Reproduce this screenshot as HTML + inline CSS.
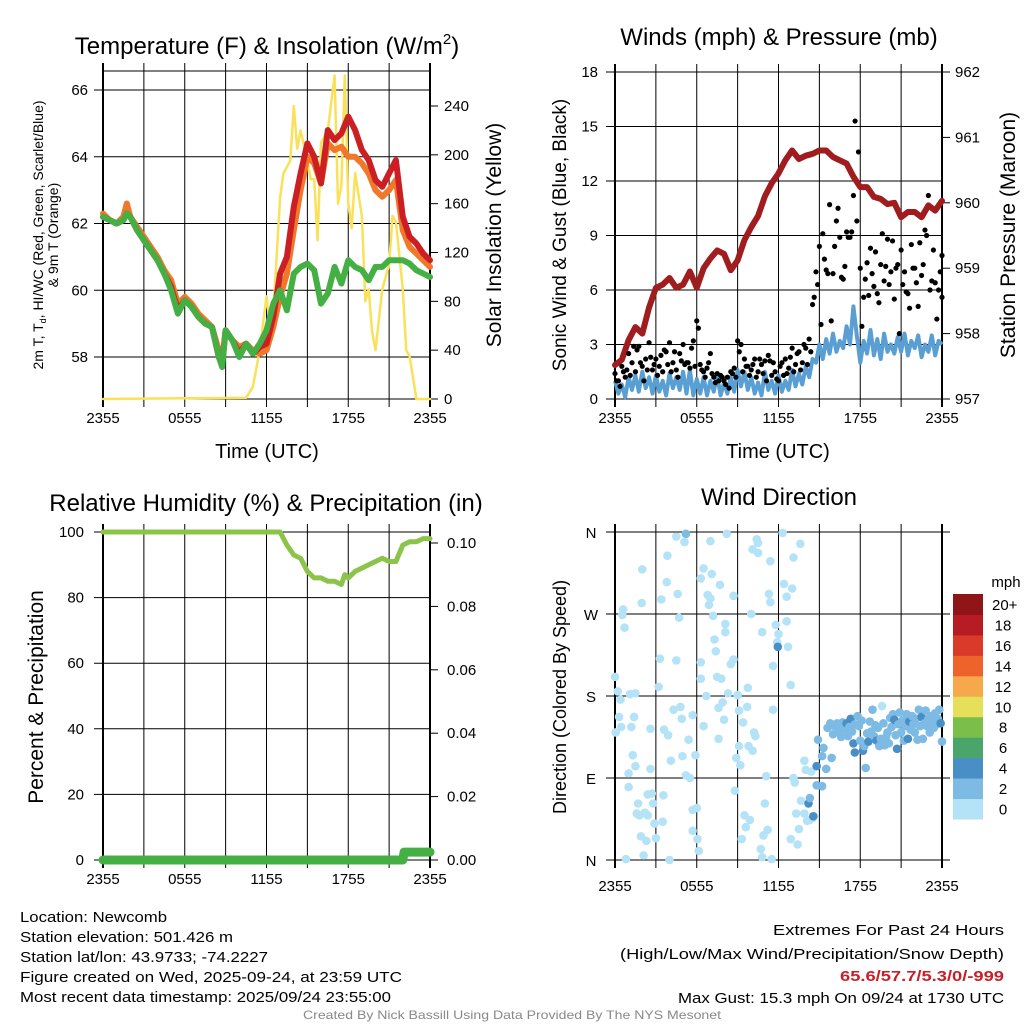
<!DOCTYPE html>
<html><head><meta charset="utf-8"><style>
html,body{margin:0;padding:0;background:#fff;}
svg{display:block;font-family:"Liberation Sans",Arial,sans-serif;}
</style></head><body>
<svg id="chart" width="1024" height="1024" viewBox="0 0 1024 1024" xmlns="http://www.w3.org/2000/svg"></svg>
<script>
// ---------- DATA ----------
const tempTimes = [0,0.5,1,1.5,1.75,2,2.5,3,3.5,4,4.5,5,5.5,6,6.5,7,7.5,8,8.5,8.75,9,9.5,10,10.5,11,11.5,12,12.5,13,13.5,14,14.5,15,15.5,16,16.5,17,17.5,18,18.5,19,19.5,20,20.5,21,21.5,22,22.5,23,23.5,24];
const temp2m = [62.2,62.1,62.0,62.1,62.3,62.2,61.8,61.5,61.2,60.9,60.5,60.1,59.4,59.7,59.5,59.2,59.0,58.9,58.0,57.8,58.8,58.5,58.1,58.4,58.1,58.3,58.4,59.2,60.5,61.0,62.5,63.5,64.4,64.0,63.2,64.8,64.5,64.7,65.2,64.8,64.2,63.9,63.3,63.1,63.5,63.9,62.2,61.6,61.4,61.1,60.9];
const temp9m = [62.3,62.1,62.0,62.2,62.6,62.2,61.9,61.6,61.3,61.0,60.6,60.3,59.6,59.8,59.6,59.3,59.1,58.9,58.2,57.9,58.8,58.5,58.3,58.4,58.2,58.1,58.2,58.9,59.8,60.5,61.8,63.0,64.0,63.8,63.2,64.4,64.2,64.3,64.0,64.0,63.8,63.5,63.0,62.8,63.0,63.3,61.8,61.3,61.1,60.9,60.7];
const dewPoint = [62.2,62.1,62.0,62.1,62.3,62.2,61.8,61.5,61.2,60.9,60.5,60.0,59.3,59.7,59.5,59.2,59.0,58.9,58.0,57.7,58.8,58.5,58.0,58.4,58.1,58.4,58.8,59.6,60.0,59.4,60.5,60.7,60.8,60.6,59.6,59.9,60.7,60.2,60.9,60.7,60.6,60.3,60.7,60.7,60.9,60.9,60.9,60.8,60.6,60.5,60.4];
const solarTimes = [0,10.5,11,11.5,12,12.25,12.5,13,13.25,13.5,13.75,14,14.25,14.5,15,15.25,15.5,15.75,16,16.5,17,17.25,17.5,17.75,18,18.25,18.5,19,19.25,19.5,19.75,20,20.5,21,21.25,21.5,22,22.25,22.5,23,24];
const solar = [0,1,10,40,84,60,70,165,185,190,195,240,205,220,195,180,180,130,210,220,265,160,175,265,160,140,185,150,80,90,55,40,90,110,150,145,90,40,35,0,0];
const tempTicks = [58,60,62,64,66];
const solarTicks = [0,40,80,120,160,200,240];
const timeLabels = ["2355","0555","1155","1755","2355"];

const pressTimes = [0,0.5,1,1.5,2,2.5,3,3.5,4,4.5,5,5.5,6,6.5,7,7.5,8,8.5,9,9.5,10,10.5,11,11.5,12,12.5,13,13.5,14,14.5,15,15.5,16,16.5,17,17.5,18,18.5,19,19.5,20,20.5,21,21.5,22,22.5,23,23.5,24];
const pressure = [957.52,957.6,957.9,958.1,958.0,958.4,958.7,958.75,958.85,958.7,958.75,958.95,958.7,959.0,959.15,959.27,959.22,958.97,959.12,959.43,959.63,959.8,960.1,960.3,960.45,960.65,960.8,960.67,960.72,960.75,960.8,960.8,960.7,960.65,960.6,960.4,960.24,960.24,960.09,960.06,959.98,960.0,959.78,959.86,959.86,959.78,959.96,959.88,960.03];
const sonicWind = [1,0.3,0.8,0.1,1.2,0.5,1.3,0.4,1.5,0.6,1.2,0.3,
 1.3,0.4,1.0,0.2,1.4,0.6,1.2,0.5,1.5,0.3,1.6,0.2,
 1.1,0.3,1.2,0.2,1.0,0.4,1.3,0.2,0.9,0.3,1.2,0.4,
 1.6,0.7,1.5,0.5,1.2,0.3,0.9,0.2,1.5,0.5,1.0,0.3,
 1.3,0.4,1.0,0.5,1.6,0.7,1.4,0.8,1.8,1.2,2.2,2.0,
 3.0,2.2,3.3,2.5,3.6,2.6,3.2,2.8,4.0,3.0,5.1,3.5,
 2.0,3.2,2.5,3.8,2.4,3.3,2.2,3.6,2.6,3.0,2.5,3.4,
 2.6,3.6,2.4,3.2,2.8,3.5,2.3,3.0,2.6,3.5,2.4,3.2,3.0];
const gustA = [1.4,1.0,1.8,1.2,2.5,2.0,1.5,2.9,1.8,2.2,3.1,1.6,
 2.2,1.8,1.5,2.6,3.1,2.0,1.6,2.5,3.0,2.0,1.7,3.2,
 4.3,1.9,1.5,1.7,2.5,1.2,1.4,1.3,1.0,1.2,1.5,1.7,
 3.2,3.0,2.2,1.8,1.6,2.2,1.5,1.9,2.1,2.4,1.3,1.5,
 1.0,2.0,2.2,1.7,2.8,1.9,2.6,2.0,2.8,3.3,5.2,7.0,
 8.4,9.1,7.1,10.7,6.9,9.8,8.9,6.6,9.2,8.9,11.2,9.8,
 7.2,5.6,7.5,8.3,6.2,5.8,7.4,6.5,8.8,7.0,5.5,7.4,
 8.2,7.0,5.8,8.5,7.2,5.1,6.8,9.3,11.2,6.5,6.4,6.0,5.6];
const gustB = [1.0,0.7,1.5,1.6,1.3,2.9,2.7,2.0,1.0,1.6,2.3,1.9,
 1.3,2.4,2.7,1.9,1.5,2.6,1.2,2.1,1.9,2.0,2.8,1.8,
 3.9,1.6,1.2,2.0,1.4,0.9,1.0,1.2,0.8,0.6,1.4,1.2,
 2.6,1.5,1.8,1.3,1.9,1.2,2.2,1.4,1.0,2.1,2.0,1.1,
 1.8,1.3,1.4,2.3,1.5,2.5,1.6,3.0,1.9,2.6,5.6,6.3,
 4.1,7.7,6.9,4.3,8.4,10.5,6.7,7.3,8.9,9.2,15.3,13.6,
 4.0,6.6,5.7,6.9,8.1,5.3,9.1,7.3,6.3,8.7,7.2,3.6,
 6.3,5.9,5.0,7.2,6.4,8.6,7.4,9.0,6.0,8.2,4.4,7.0,7.9];
const windTicks = [0,3,6,9,12,15,18];
const pressTicks = [957,958,959,960,961,962];

const rhTimes = [0,13,13.5,14,14.5,15,15.5,16,16.5,17,17.5,17.75,18,18.5,19,19.5,20,20.5,21,21.5,22,22.5,23,23.5,24];
const rh = [100,100,96,93,92,88,86,86,85,85,84,87,86,88,89,90,91,92,91,91,96,97,97,98,98];
const precipTimes = [0,22,22.1,24];
const precip = [0,0,0.0025,0.0025];
const rhTicks = [0,20,40,60,80,100];
const precipTicks = ["0.00","0.02","0.04","0.06","0.08","0.10"];

const dirTimes = [4.5,5.2,5.1,3.85,2.0,1.96,0.6,0.54,0.7,0,0.2,0.4,1.1,1.5,0.3,0.45,0.05,1.4,1.2,1.3,1.5,1.0,1.0,1.7,1.6,1.8,2.2,2.4,2.4,2.7,2.8,2.6,2.6,1.9,2.3,2.1,0.8,3.0,2.9,3.5,3.55,3.6,3.9,4.1,3.2,3.3,3.4,3.8,4.6,4.7,4.5,4.3,4.8,4.9,4.95,5.2,5.5,5.4,5.7,4.0,5.7,5.9,5.7,6.0,6.05,6.15,6.7,6.5,6.3,6.3,6.3,6.5,7.1,6.8,7.0,6.9,7.2,7.3,7.4,7.0,7.7,8.2,8.1,8.1,8.7,8.5,8.7,7.5,7.8,7.6,7.9,8.0,7.6,8.3,9.0,9.1,9.7,9.4,9.75,10.2,10.3,9.1,8.9,9.2,9.8,10.1,8.8,9.5,9.9,9.6,9.3,11.1,11.0,10.9,11.2,10.7,10.8,11.5,10.4,10.5,10.1,10.5,11.4,10.0,10.8,11.3,11.4,11.8,12.0,11.9,11.95,12.7,12.6,11.6,12.9,11.6,12.3,13.6,13.1,12.4,13.0,12.6,13.2,13.1,13.65,13.3,13.9,13.5,12.9,13.4,13.9,14.0,14.4,14.1,14.3,14.5,14.6,
 14.2,14.3,14.55,14.8,15.2,14.8,15.5,14.9,15.3,15.2,15.9,
 15.6,15.8,16.0,16.1,16.3,16.4,16.5,16.6,16.7,16.9,17.0,17.1,17.2,17.3,17.4,17.5,17.6,17.6,17.8,17.9,18.0,18.1,18.2,18.3,18.4,18.5,18.6,18.7,18.8,18.9,19.0,19.1,19.2,19.3,19.4,19.5,19.6,19.7,19.8,19.9,20.0,20.1,20.2,20.3,20.4,20.5,20.6,20.7,20.8,20.9,21.0,21.1,21.2,21.3,21.4,21.5,21.6,21.7,21.8,21.9,22.0,22.1,22.2,22.3,22.4,22.5,22.6,22.7,22.8,22.9,23.0,23.1,23.2,23.3,23.4,23.5,23.6,23.7,23.8,23.9,24.0];
const dirDeg = [355,358,349,334,319,282,275,269,255,201,185,176,182,183,157,146,140,157,146,115,103,95,80,62,51,49,52,49,72,73,62,144,100,26,21,5,1,24,40,42,71,143,137,109,190,221,286,305,292,266,219,165,168,155,114,93,90,132,32,0,159,115,55,57,23,10,180,147,199,217,309,320,314,291,287,280,268,242,229,350,302,358,259,250,290,215,220,201,199,167,173,154,133,183,181,164,168,151,189,140,136,125,112,104,125,120,76,49,44,36,23,92,62,27,33,12,3,1,352,348,341,337,328,270,250,292,283,258,248,239,234,234,262,213,192,165,359,347,332,303,298,289,85,90,65,51,51,34,23,17,109,99,97,43,44,46,48,
 62,68,48,82,81,103,100,132,123,114,112,
 145,150,138,147,150,140,148,135,151,143,150,136,146,155,141,128,118,149,158,147,131,153,120,125,101,139,130,152,141,165,136,148,131,145,125,133,169,150,126,135,140,128,156,146,160,154,137,122,149,162,140,153,131,147,160,133,152,143,158,149,140,155,132,165,147,157,133,150,164,147,155,140,158,151,145,161,149,155,165,150,130];
const dirSpeed = [1,3,1,1,1,1,1,1,1,1,1,1,1,1,1,1,1,1,1,1,1,1,1,1,1,1,1,1,1,1,1,1,1,1,1,1,1,1,1,1,1,1,1,1,1,1,1,1,1,1,1,1,1,1,1,1,1,1,1,1,1,1,1,1,1,1,1,1,1,1,1,1,1,1,1,1,1,1,1,1,1,1,1,1,1,1,1,1,1,1,1,1,1,1,1,1,1,1,1,1,1,1,1,1,1,1,1,1,1,1,1,1,1,1,1,1,1,1,1,1,1,1,1,1,1,1,1,1,1,1,4,1,1,1,1,1,1,1,1,1,1,1,1,1,1,1,1,1,1,1,1,1,1,1,1,1,1,
 4,3,4,3,2,4,2,3,3,2,3,
 2,3,3,2,2,3,2,3,2,3,4,3,2,4,3,4,4,3,2,2,3,2,4,3,2,2,4,2,2,3,2,2,4,2,2,2,1,2,2,3,2,3,2,2,3,4,2,4,2,2,3,3,2,2,3,4,4,2,2,3,3,3,2,2,2,4,2,2,3,2,2,2,3,2,2,2,3,2,3,4,2];
const dirLabels = ["N","E","S","W","N"];
const cbLabels = ["0","2","4","6","8","10","12","14","16","18","20+"];
const cbColors = ["#b4e3f7","#7dbbe5","#4a8ec6","#4aa56b","#7bbf4a","#e5e05a","#f5a94a","#ee632b","#d93a2a","#b71c24","#8f1519"];

// ---------- HELPERS ----------
const NS = "http://www.w3.org/2000/svg";
const svg = document.getElementById("chart");
function mk(tag, attrs, parent) {
  const e = document.createElementNS(NS, tag);
  for (const k in attrs) e.setAttribute(k, attrs[k]);
  (parent || svg).appendChild(e);
  return e;
}
function txt(str, x, y, size, anchor, parent, extra) {
  const t = mk("text", Object.assign({x: x, y: y, "font-size": size, "text-anchor": anchor || "middle", fill: "#000"}, extra || {}), parent);
  t.textContent = str;
  return t;
}
function lin(d0, d1, p0, p1) { return v => p0 + (v - d0) * (p1 - p0) / (d1 - d0); }
function pathFrom(xs, ys, xf, yf) {
  return xs.map((t, i) => (i ? "L" : "M") + xf(t).toFixed(1) + "," + yf(ys[i]).toFixed(1)).join("");
}

function panelFrame(g, L, T, R, B, hLines, vCount) {
  for (let i = 0; i <= vCount; i++) {
    const x = L + (R - L) * i / vCount;
    const l = mk("line", {x1: x, y1: T - 8, x2: x, y2: B + 8, stroke: "#000", "stroke-width": (i === 0 || i === vCount) ? 2 : 1}, g);
    
    
  }
  hLines.forEach(y => {
    const l = mk("line", {x1: L - 9, y1: y, x2: R, y2: y, stroke: "#000", "stroke-width": 1}, g);
    
    
  });
  const b = mk("line", {x1: L, y1: T, x2: R, y2: T, stroke: "#000", "stroke-width": 1}, g);
  
  
  const b2 = mk("line", {x1: L, y1: B, x2: R, y2: B, stroke: "#000", "stroke-width": 1}, g);
  
  
}
function timeAxis(g, L, R, y) {
  timeLabels.forEach((s, i) => {
    const t = txt(s, L + (R - L) * i / 4, y, 15, "middle", g);
    
    
  });
}

// ---------- PANEL 1: Temperature ----------
(function () {
  const g = mk("g", {});
  
  
  const L = 103, R = 430, T = 71, B = 399;
  const x = lin(0, 24, L, R);
  const y = lin(58, 66, 357, 90);
  const ys = lin(0, 240, 399, 106);
  panelFrame(g, L, T, R, B, tempTicks.map(y), 8);
  tempTicks.forEach(v => {
    const t = txt(String(v), 88, y(v) + 5, 15, "end", g);
    
    
  });
  solarTicks.forEach(v => {
    const l = mk("line", {x1: R, y1: ys(v), x2: R + 8, y2: ys(v), stroke: "#000", "stroke-width": 1}, g);
    
    
    const t = txt(String(v), 444, ys(v) + 5, 15, "start", g);
    
    
  });
  const series = [[solarTimes, solar, ys, "#f9e15a", 2.5, "solar-line"], [tempTimes, temp9m, y, "#f0782a", 6, "temp-9m-line"], [tempTimes, temp2m, y, "#cc1f24", 6, "temp-2m-line"], [tempTimes, dewPoint, y, "#44b043", 6, "dewpoint-line"]];
  series.forEach(s => {
    const p = mk("path", {d: pathFrom(s[0], s[1], x, s[2]), fill: "none", stroke: s[3], "stroke-width": s[4], "stroke-linejoin": "round", "stroke-linecap": "round"}, g);
    
    
  });
  timeAxis(g, L, R, 423);
  const t1 = mk("text", {x: 267, y: 54, "font-size": 24, "text-anchor": "middle"}, g);
  t1.innerHTML = 'Temperature (F) &amp; Insolation (W/m<tspan font-size="15" dy="-10">2</tspan><tspan dy="10">)</tspan>';
  
  
  const xt = txt("Time (UTC)", 267, 458, 20, "middle", g);
  
  
  const yt = mk("text", {x: 0, y: 0, "font-size": 14, "text-anchor": "middle", transform: "translate(43,235) rotate(-90)"}, g);
  yt.innerHTML = '2m T, T<tspan font-size="9" dy="3">d</tspan><tspan dy="-3">, HI/WC (Red, Green, Scarlet/Blue)</tspan>';
  
  
  const yt2 = txt("& 9m T (Orange)", 0, 0, 14, "middle", g, {transform: "translate(58,235) rotate(-90)"});
  
  
  const rt = txt("Solar Insolation (Yellow)", 0, 0, 21, "middle", g, {transform: "translate(501,235) rotate(-90)"});
  
  
})();

// ---------- PANEL 2: Winds ----------
(function () {
  const g = mk("g", {});
  
  
  const L = 615, R = 942, T = 72, B = 399;
  const x = lin(0, 24, L, R);
  const y = lin(0, 18, 399, 72);
  const yp = lin(957, 962, 399, 72);
  panelFrame(g, L, T, R, B, windTicks.map(y), 8);
  windTicks.forEach(v => {
    const t = txt(String(v), 598, y(v) + 5, 15, "end", g);
    
    
  });
  pressTicks.forEach(v => {
    const l = mk("line", {x1: R, y1: yp(v), x2: R + 8, y2: yp(v), stroke: "#000", "stroke-width": 1}, g);
    
    
    const t = txt(String(v), 955, yp(v) + 5, 15, "start", g);
    
    
  });
  const wt = sonicWind.map((v, i) => i * 0.25);
  const wp = mk("path", {d: pathFrom(wt, sonicWind, x, y), fill: "none", stroke: "#5a9fd4", "stroke-width": 4, "stroke-linejoin": "round"}, g);
  
  
  const pp = mk("path", {d: pathFrom(pressTimes, pressure, x, yp), fill: "none", stroke: "#a01c1e", "stroke-width": 6, "stroke-linejoin": "round", "stroke-linecap": "round"}, g);
  
  
  [[gustA, 0], [gustB, 0.12]].forEach(gs => {
    gs[0].forEach((v, i) => {
      const c = mk("circle", {cx: x(Math.min(24, i * 0.25 + gs[1])), cy: y(v), r: 2.6, fill: "#000"}, g);
      
      
    });
  });
  timeAxis(g, L, R, 423);
  const t1 = txt("Winds (mph) & Pressure (mb)", 779, 45, 24, "middle", g);
  
  
  const xt = txt("Time (UTC)", 778, 458, 20, "middle", g);
  
  
  const yt = txt("Sonic Wind & Gust (Blue, Black)", 0, 0, 19, "middle", g, {transform: "translate(566,235) rotate(-90)"});
  
  
  const rt = txt("Station Pressure (Maroon)", 0, 0, 21, "middle", g, {transform: "translate(1015,235) rotate(-90)"});
  
  
})();

// ---------- PANEL 3: RH ----------
(function () {
  const g = mk("g", {});
  
  
  const L = 103, R = 430, T = 532, B = 860;
  const x = lin(0, 24, L, R);
  const y = lin(0, 100, 860, 532);
  const yr = lin(0, 0.10, 860, 543);
  panelFrame(g, L, T, R, B, rhTicks.map(y), 8);
  rhTicks.forEach(v => {
    const t = txt(String(v), 84, y(v) + 5, 15, "end", g);
    
    
  });
  precipTicks.forEach(s => {
    const v = parseFloat(s);
    const l = mk("line", {x1: R, y1: yr(v), x2: R + 8, y2: yr(v), stroke: "#000", "stroke-width": 1}, g);
    
    
    const t = txt(s, 447, yr(v) + 5, 15, "start", g);
    
    
  });
  const rp = mk("path", {d: pathFrom(rhTimes, rh, x, y), fill: "none", stroke: "#8cc44a", "stroke-width": 5, "stroke-linejoin": "round", "stroke-linecap": "round"}, g);
  
  
  const pp = mk("path", {d: pathFrom(precipTimes, precip, x, yr), fill: "none", stroke: "#44b043", "stroke-width": 9, "stroke-linejoin": "round", "stroke-linecap": "round"}, g);
  
  
  timeAxis(g, L, R, 884);
  const t1 = txt("Relative Humidity (%) & Precipitation (in)", 266, 511, 24, "middle", g);
  
  
  const yt = txt("Percent & Precipitation", 0, 0, 21, "middle", g, {transform: "translate(43,697) rotate(-90)"});
  
  
})();

// ---------- PANEL 4: Wind direction ----------
(function () {
  const g = mk("g", {});
  
  
  const L = 615, R = 942, T = 532, B = 860;
  const x = lin(0, 24, L, R);
  const y = lin(0, 360, 860, 532);
  panelFrame(g, L, T, R, B, dirLabels.map((s, i) => y(i * 90)), 8);
  dirLabels.forEach((s, i) => {
    const l = mk("line", {x1: R, y1: y(i * 90), x2: R + 8, y2: y(i * 90), stroke: "#000", "stroke-width": 1}, g);
    
    
    const t = txt(s, 591, y(i * 90) + 6, 15, "middle", g);
    
    
  });
  dirTimes.forEach((t, i) => {
    const c = mk("circle", {cx: x(t), cy: y(dirDeg[i]), r: 4.3, fill: cbColors[Math.min(10, Math.floor(dirSpeed[i] / 2))]}, g);
    
    
  });
  timeAxis(g, L, R, 891);
  const t1 = txt("Wind Direction", 779, 505, 24, "middle", g);
  
  
  const yt = txt("Direction (Colored By Speed)", 0, 0, 18, "middle", g, {transform: "translate(566,697) rotate(-90)"});
  
  
  const cb = mk("g", {}, g);
  
  
  const cbTop = 594, cbH = 225 / 11;
  cbColors.forEach((c, i) => {
    const r = mk("rect", {x: 953, y: cbTop + (10 - i) * cbH, width: 30, height: cbH + 0.5, fill: c}, cb);
    
    
    const t = txt(cbLabels[i], i === 10 ? 992 : 1003, cbTop + (10 - i) * cbH + 16, 15, i === 10 ? "start" : "middle", cb);
    
    
  });
  const u = txt("mph", 1006, 587, 15, "middle", cb);
  
  
})();

// ---------- FOOTER TEXT ----------
(function () {
  const g = mk("g", {});
  
  
  const lines = [["Location: Newcomb", 922, 147], ["Station elevation: 501.426 m", 942, 213], ["Station lat/lon: 43.9733; -74.2227", 962, 248], ["Figure created on Wed, 2025-09-24, at 23:59 UTC", 982, 382], ["Most recent data timestamp: 2025/09/24 23:55:00", 1002, 371]];
  lines.forEach(l => {
    const t = txt(l[0], 20, l[1], 15, "start", g, {textLength: l[2], lengthAdjust: "spacingAndGlyphs"});
    
    
  });
  const g2 = mk("g", {});
  
  
  const rl = [["Extremes For Past 24 Hours", 935, 231, "#000", "normal"], ["(High/Low/Max Wind/Precipitation/Snow Depth)", 959, 384, "#000", "normal"], ["65.6/57.7/5.3/0/-999", 981, 164, "#c8202a", "bold"], ["Max Gust: 15.3 mph On 09/24 at 1730 UTC", 1003, 326, "#000", "normal"]];
  rl.forEach(l => {
    const t = txt(l[0], 1004, l[1], 15, "end", g2, {textLength: l[2], lengthAdjust: "spacingAndGlyphs", fill: l[3], "font-weight": l[4]});
    
    
  });
  const f = txt("Created By Nick Bassill Using Data Provided By The NYS Mesonet", 512, 1019, 12, "middle", svg, {fill: "#888", textLength: 418, lengthAdjust: "spacingAndGlyphs"});
  
  
})();
</script>
</body></html>
